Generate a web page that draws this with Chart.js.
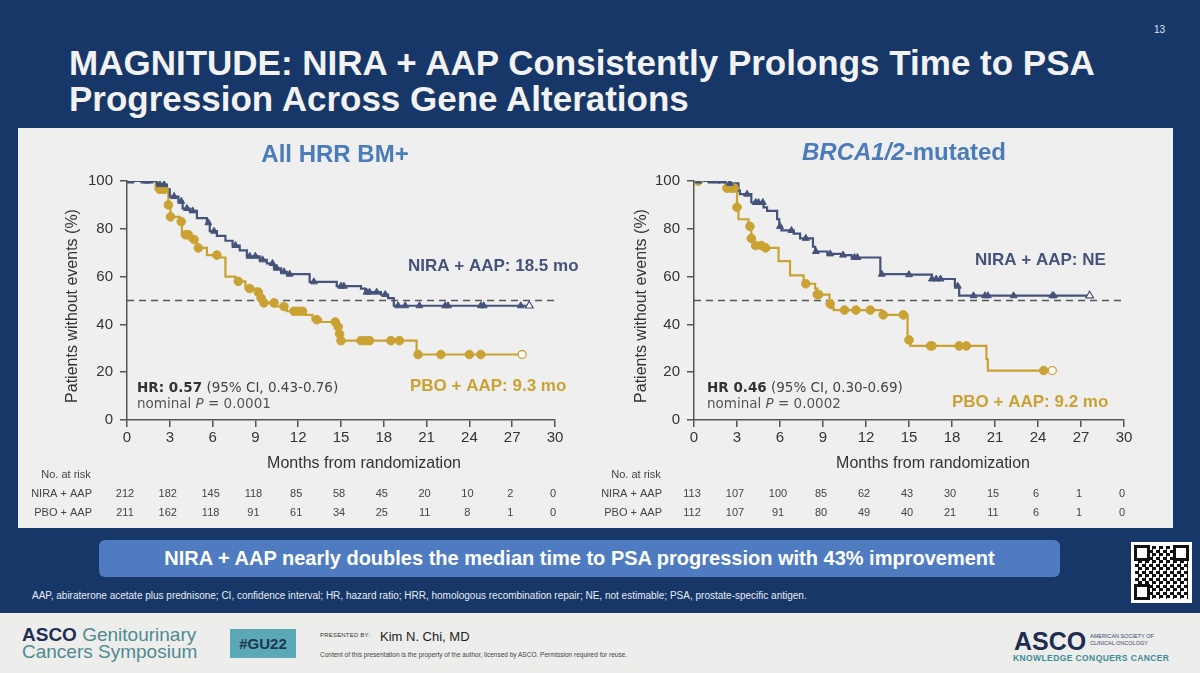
<!DOCTYPE html>
<html>
<head>
<meta charset="utf-8">
<script src="https://cdn.jsdelivr.net/npm/chart.js@4.4.1/dist/chart.umd.min.js"></script>
<style>
  body { margin: 0; }
  #slide { position: relative; width: 1200px; height: 673px; background: #163768; overflow: hidden;
           font-family: Arial, "Liberation Sans", sans-serif; }
  .abs { position: absolute; }
  #title { left: 69px; top: 45px; color: #f2f2f2; font-weight: bold; font-size: 35px; line-height: 36px; white-space: nowrap; }
  #panel { left: 18px; top: 128px; width: 1155px; height: 400px; background: #efefef; }
  #banner { left: 99px; top: 540px; width: 961px; height: 37px; background: #4f7cc0; border-radius: 6px;
            color: #fff; font-weight: bold; font-size: 20px; line-height: 37px; text-align: center; white-space: nowrap; }
  #foot { left: 32px; top: 590px; color: #e8ecf2; font-size: 10px; white-space: nowrap; }
  #footer { left: 0; top: 613px; width: 1200px; height: 60px; background: #ededeb; }
  canvas { position: absolute; }
</style>
</head>
<body>
<div id="slide">
  <div id="title" class="abs">MAGNITUDE: NIRA + AAP Consistently Prolongs Time to PSA<br>Progression Across Gene Alterations</div>
  <div class="abs" style="left:1154px;top:24px;color:#dfe5ee;font-size:10px;">13</div>
  <div id="panel" class="abs"></div>
  <canvas id="hrr" width="572" height="398" style="left:18px;top:130px;"></canvas>
  <canvas id="brca" width="580" height="398" style="left:590px;top:130px;"></canvas>
  <div id="banner" class="abs">NIRA + AAP nearly doubles the median time to PSA progression with 43% improvement</div>
  <div id="foot" class="abs">AAP, abiraterone acetate plus prednisone; CI, confidence interval; HR, hazard ratio; HRR, homologous recombination repair; NE, not estimable; PSA, prostate-specific antigen.</div>
  <div class="abs" style="left:1131px;top:542px;width:61px;height:61px;background:#fff;">
    <div class="abs" style="left:4px;top:4px;width:53px;height:53px;background:repeating-conic-gradient(#111 0 25%, #fff 0 50%) 0 0/7px 7px;"></div>
    <div class="abs" style="left:3px;top:3px;width:10px;height:10px;border:3px solid #111;background:#fff;"></div>
    <div class="abs" style="left:42px;top:3px;width:10px;height:10px;border:3px solid #111;background:#fff;"></div>
    <div class="abs" style="left:3px;top:42px;width:10px;height:10px;border:3px solid #111;background:#fff;"></div>
  </div>
  <div id="footer" class="abs">
    <div class="abs" style="left:22px;top:13px;font-size:19px;line-height:17px;color:#4f8a92;white-space:nowrap;">
      <span style="color:#1f2d52;font-weight:bold;">ASCO</span> Genitourinary<br>Cancers Symposium</div>
    <div class="abs" style="left:230px;top:16px;width:66px;height:29px;background:#5ba9b6;color:#1f3552;font-weight:bold;font-size:15px;line-height:29px;text-align:center;">#GU22</div>
    <div class="abs" style="left:320px;top:19px;font-size:6px;color:#333;letter-spacing:0.2px;white-space:nowrap;">PRESENTED BY:</div>
    <div class="abs" style="left:380px;top:17px;font-size:13px;line-height:13px;color:#222;">Kim N. Chi, MD</div>
    <div class="abs" style="left:320px;top:38px;font-size:6.5px;color:#444;white-space:nowrap;">Content of this presentation is the property of the author, licensed by ASCO. Permission required for reuse.</div>
    <div class="abs" style="left:1014px;top:16px;font-size:25px;line-height:25px;font-weight:bold;color:#1f2d52;">ASCO</div>
    <div class="abs" style="left:1090px;top:20px;font-size:5.5px;line-height:6.5px;color:#3a4a6a;white-space:nowrap;">AMERICAN SOCIETY OF<br>CLINICAL ONCOLOGY</div>
    <div class="abs" style="left:1013px;top:40px;font-size:8.5px;font-weight:bold;color:#3d8c9a;letter-spacing:0.4px;white-space:nowrap;">KNOWLEDGE CONQUERS CANCER</div>
  </div>
</div>
<script>
const months = [0, 3, 6, 9, 12, 15, 18, 21, 24, 27, 30];
const pctTicks = [0, 20, 40, 60, 80, 100];
const median = 50;

// All HRR BM+  (step times / survival after each step)
const hrrNiraT = [0, 2.1, 2.8, 3.0, 3.6, 3.9, 4.4, 4.9, 5.6, 5.8, 6.3, 6.9, 7.4, 7.9, 8.4, 9.3, 9.8, 10.3, 10.8, 11.2, 12.8, 14.7, 16.4, 16.7, 17.8, 18.3, 18.7, 28.2];
const hrrNiraS = [100, 98.5, 96.5, 93.5, 91.5, 88.5, 87.5, 84.5, 82.5, 79, 77, 75, 73, 71, 68.5, 67, 65.5, 63.5, 62, 61, 57.8, 56, 55, 53.5, 52.5, 51, 47.8, 47.8];
const hrrNiraCens = [0.25, 1.2, 1.4, 1.6, 2.3, 2.6, 3.3, 3.8, 4.2, 4.6, 5.7, 6.1, 7.6, 8.6, 9.0, 9.5, 10.2, 10.5, 11.0, 11.4, 13.1, 15.0, 15.2, 16.8, 17.0, 17.5, 18.1, 19.0, 19.5, 20.5, 22.3, 22.5, 24.8, 25.0, 27.6];
const hrrNiraEnd = 28.2;
const hrrPboT = [0, 2.0, 2.9, 3.05, 3.7, 3.85, 4.4, 4.9, 5.6, 6.5, 6.9, 7.6, 8.3, 9.1, 9.4, 9.6, 10.4, 11.2, 12.5, 13.0, 13.6, 14.8, 14.9, 15.0, 20.3, 27.7];
const hrrPboS = [100, 96.5, 90, 85, 83, 77.5, 75.5, 72, 69, 68, 60, 58, 55, 53.5, 51, 49, 47.5, 45.5, 44, 42, 41, 39, 36, 33.2, 27.4, 27.4];
const hrrPboCens = [2.3, 2.6, 2.9, 3.05, 3.8, 4.1, 4.3, 4.7, 5.0, 6.3, 7.8, 8.6, 9.2, 9.4, 9.6, 10.3, 11.0, 11.7, 12.0, 12.3, 13.3, 14.6, 14.8, 14.9, 15.0, 16.4, 16.7, 17.0, 18.5, 19.1, 20.4, 22.0, 24.0, 24.8];
const hrrPboEnd = 27.7;
const hrrNiraRisk = [212, 182, 145, 118, 85, 58, 45, 20, 10, 2, 0];
const hrrPboRisk = [211, 162, 118, 91, 61, 34, 25, 11, 8, 1, 0];

// BRCA1/2-mutated
const brcaNiraT = [0, 2.2, 3.1, 3.2, 4.0, 4.85, 5.1, 5.8, 5.95, 6.1, 6.95, 7.4, 8.3, 8.45, 9.3, 10.3, 11.0, 13.0, 15.0, 16.6, 18.2, 18.5, 27.6];
const brcaNiraS = [100, 99, 96, 94.5, 91, 89, 87.5, 84, 81, 79.3, 78, 76, 72.5, 70.5, 69.5, 69, 68, 61, 60.8, 59, 56, 52, 52];
const brcaNiraCens = [0.3, 1.2, 1.6, 1.9, 2.5, 3.7, 4.3, 4.5, 4.8, 6.0, 6.8, 7.8, 8.5, 9.5, 10.4, 11.2, 11.4, 13.1, 15.0, 16.6, 16.9, 17.2, 18.4, 19.5, 20.3, 20.5, 22.3, 25.0, 25.1];
const brcaNiraEnd = 27.6;
const brcaPboT = [0, 2.2, 3.0, 3.1, 3.8, 4.0, 4.1, 4.85, 5.9, 6.7, 7.65, 8.45, 8.6, 9.45, 9.55, 9.75, 13.1, 14.9, 15.1, 20.4, 20.5, 25.0];
const brcaPboS = [100, 97, 89, 84, 81, 76, 73, 72, 66.5, 60.5, 57, 55, 52.5, 48.6, 46.8, 46, 44, 33.5, 31, 25.5, 20.7, 20.7];
const brcaPboCens = [0.3, 2.3, 2.6, 2.8, 3.0, 3.9, 4.0, 4.3, 4.7, 5.0, 7.8, 8.6, 8.7, 9.5, 10.5, 11.3, 12.3, 13.2, 14.6, 15.0, 16.5, 16.6, 18.5, 19.0, 24.4];
const brcaPboEnd = 25.0;
const brcaNiraRisk = [113, 107, 100, 85, 62, 43, 30, 15, 6, 1, 0];
const brcaPboRisk = [112, 107, 91, 80, 49, 40, 21, 11, 6, 1, 0];

const NAVY = '#45537a';
const GOLD = '#c9a233';
const BLUE = '#4a7cba';
const ARIAL = 'Arial, "Liberation Sans", sans-serif';
const VERD = '"DejaVu Sans", Verdana, sans-serif';

function stepAt(T, S, t) {
  let v = S[0];
  for (let i = 0; i < T.length; i++) if (T[i] <= t + 1e-9) v = S[i];
  return v;
}

function runsWidth(ctx, runs) {
  let w = 0;
  runs.forEach(r => { ctx.font = r.font; w += ctx.measureText(r.text).width; });
  return w;
}
function drawRuns(ctx, x, y, runs) {
  ctx.textAlign = 'left';
  ctx.textBaseline = 'alphabetic';
  runs.forEach(r => {
    ctx.font = r.font;
    ctx.fillStyle = r.color;
    ctx.fillText(r.text, x, y);
    x += ctx.measureText(r.text).width;
  });
}

function kmChart(id, o) {
  const pts = (T, S) => T.map((t, i) => ({x: t, y: S[i]}));
  const cens = (T, S, C) => C.map(t => ({x: t, y: stepAt(T, S, t)}));

  const textPlugin = {
    id: 'kmText',
    afterDraw(chart) {
      const ctx = chart.ctx;
      const xs = chart.scales.x;
      ctx.save();
      // chart title
      const tw = runsWidth(ctx, o.title);
      drawRuns(ctx, o.titleX - tw / 2, o.titleY, o.title);
      // medians
      drawRuns(ctx, o.niraLbl[0], o.niraLbl[1], [{text: o.niraText, font: 'bold 17px ' + ARIAL, color: NAVY}]);
      drawRuns(ctx, o.pboLbl[0], o.pboLbl[1], [{text: o.pboText, font: 'bold 17px ' + ARIAL, color: GOLD}]);
      // HR
      drawRuns(ctx, o.hrPos[0], o.hrPos[1], [
        {text: o.hrBold, font: 'bold 13.5px ' + VERD, color: '#333'},
        {text: o.hrRest, font: '13.5px ' + VERD, color: '#444'}]);
      drawRuns(ctx, o.hrPos[0], o.hrPos[1] + 16, [
        {text: 'nominal ', font: '13.5px ' + VERD, color: '#555'},
        {text: 'P', font: 'italic 13.5px ' + VERD, color: '#555'},
        {text: ' = ' + o.pval, font: '13.5px ' + VERD, color: '#555'}]);
      // axis titles
      ctx.fillStyle = '#333';
      ctx.font = '16px ' + ARIAL;
      ctx.textAlign = 'center';
      ctx.textBaseline = 'middle';
      ctx.fillText('Months from randomization', o.xTitle[0], o.xTitle[1]);
      ctx.translate(o.yTitle[0], o.yTitle[1]);
      ctx.rotate(-Math.PI / 2);
      ctx.fillText('Patients without events (%)', 0, 0);
      ctx.setTransform(1, 0, 0, 1, 0, 0);
      // number at risk
      ctx.font = '11px ' + ARIAL;
      ctx.fillStyle = '#444';
      ctx.textBaseline = 'middle';
      ctx.textAlign = 'center';
      ctx.fillText('No. at risk', o.riskHead, 345);
      ctx.textAlign = 'right';
      ctx.fillText('NIRA + AAP', o.riskLbl, 364);
      ctx.fillText('PBO + AAP', o.riskLbl, 383);
      ctx.textAlign = 'center';
      months.forEach((m, i) => {
        const px = xs.getPixelForValue(m) - 2;
        ctx.fillText(String(o.niraRisk[i]), px, 364);
        ctx.fillText(String(o.pboRisk[i]), px, 383);
      });
      ctx.restore();
    }
  };

  new Chart(document.getElementById(id), {
    type: 'line',
    data: {
      datasets: [
        {data: [{x: o.niraEnd, y: stepAt(o.niraT, o.niraS, o.niraEnd)}], showLine: false, pointStyle: 'triangle',
         pointRadius: 4.5, backgroundColor: '#fff', borderColor: NAVY, borderWidth: 1.2},
        {data: cens(o.niraT, o.niraS, o.niraC), showLine: false, pointStyle: 'triangle',
         pointRadius: 4, backgroundColor: NAVY, borderColor: NAVY, borderWidth: 1},
        {data: [{x: o.pboEnd, y: stepAt(o.pboT, o.pboS, o.pboEnd)}], showLine: false, pointStyle: 'circle',
         pointRadius: 4, backgroundColor: '#fff', borderColor: GOLD, borderWidth: 1.3},
        {data: cens(o.pboT, o.pboS, o.pboC), showLine: false, pointStyle: 'circle',
         pointRadius: 4.3, backgroundColor: GOLD, borderColor: GOLD, borderWidth: 1},
        {data: pts(o.niraT, o.niraS), stepped: true, borderColor: NAVY, borderWidth: 2.2, pointRadius: 0, fill: false},
        {data: pts(o.pboT, o.pboS), stepped: true, borderColor: GOLD, borderWidth: 2.2, pointRadius: 0, fill: false},
        {data: [{x: months[0], y: median}, {x: months[months.length - 1], y: median}], borderColor: '#555',
         borderDash: [7, 5], borderWidth: 1.5, pointRadius: 0, fill: false}
      ]
    },
    options: {
      responsive: false,
      animation: false,
      layout: {padding: {top: 51, right: o.padRight, left: 0, bottom: 0}},
      plugins: {legend: {display: false}, tooltip: {enabled: false}},
      scales: {
        x: {
          type: 'linear', min: 0, max: 30,
          afterBuildTicks: s => { s.ticks = months.map(v => ({value: v})); },
          afterFit: s => { s.height = 108; },
          ticks: {font: {size: 15, family: ARIAL}, color: '#333', padding: 2, maxRotation: 0, autoSkip: false},
          grid: {drawOnChartArea: false, tickLength: 7, color: '#555', lineWidth: 1.5},
          border: {color: '#555', width: 1.5}
        },
        y: {
          type: 'linear', min: 0, max: 100,
          afterBuildTicks: s => { s.ticks = pctTicks.map(v => ({value: v})); },
          afterFit: s => { s.width = o.yWidth; },
          ticks: {font: {size: 15, family: ARIAL}, color: '#333', padding: 7},
          grid: {drawOnChartArea: false, tickLength: 7, color: '#555', lineWidth: 1.5},
          border: {color: '#555', width: 1.5}
        }
      }
    },
    plugins: [textPlugin]
  });
}

kmChart('hrr', {
  niraT: hrrNiraT, niraS: hrrNiraS, niraC: hrrNiraCens, niraEnd: hrrNiraEnd,
  pboT: hrrPboT, pboS: hrrPboS, pboC: hrrPboCens, pboEnd: hrrPboEnd,
  niraRisk: hrrNiraRisk, pboRisk: hrrPboRisk,
  yWidth: 109, padRight: 35,
  title: [{text: 'All HRR BM+', font: 'bold 24px ' + ARIAL, color: BLUE}], titleX: 317, titleY: 32,
  niraText: 'NIRA + AAP: 18.5 mo', niraLbl: [390, 141],
  pboText: 'PBO + AAP: 9.3 mo', pboLbl: [392, 261],
  hrBold: 'HR: 0.57', hrRest: ' (95% CI, 0.43-0.76)', pval: '0.0001', hrPos: [119, 262],
  xTitle: [346, 334], yTitle: [55, 176], riskHead: 48, riskLbl: 74
});

kmChart('brca', {
  niraT: brcaNiraT, niraS: brcaNiraS, niraC: brcaNiraCens, niraEnd: brcaNiraEnd,
  pboT: brcaPboT, pboS: brcaPboS, pboC: brcaPboCens, pboEnd: brcaPboEnd,
  niraRisk: brcaNiraRisk, pboRisk: brcaPboRisk,
  yWidth: 104, padRight: 46,
  title: [{text: 'BRCA1/2', font: 'italic bold 24px ' + ARIAL, color: BLUE},
          {text: '-mutated', font: 'bold 24px ' + ARIAL, color: BLUE}], titleX: 314, titleY: 30,
  niraText: 'NIRA + AAP: NE', niraLbl: [385, 135],
  pboText: 'PBO + AAP: 9.2 mo', pboLbl: [362, 277],
  hrBold: 'HR 0.46', hrRest: ' (95% CI, 0.30-0.69)', pval: '0.0002', hrPos: [117, 262],
  xTitle: [343, 334], yTitle: [52, 176], riskHead: 46, riskLbl: 72
});
</script>
</body>
</html>
